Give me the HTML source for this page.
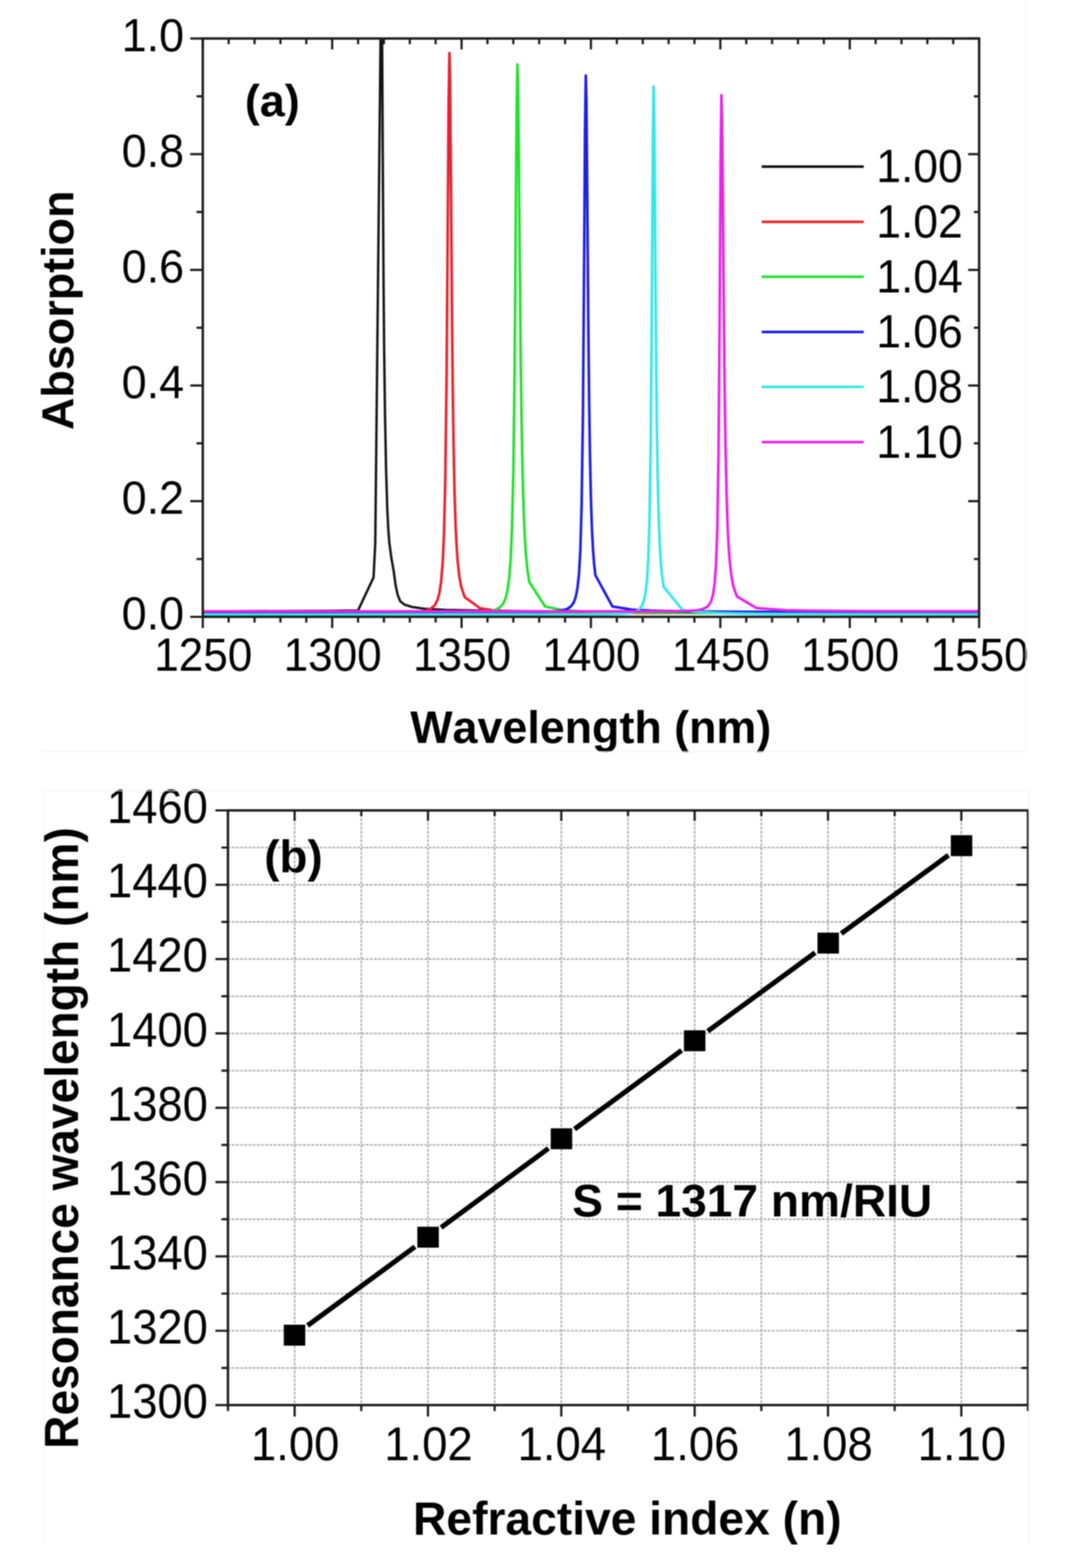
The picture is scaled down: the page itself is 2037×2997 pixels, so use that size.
<!DOCTYPE html>
<html><head><meta charset="utf-8"><title>Absorption spectra and resonance wavelength sensitivity</title>
<style>html,body{margin:0;padding:0;background:#fff;}svg{display:block;filter:blur(0.9px);}text{font-family:'Liberation Sans', Arial, sans-serif;font-kerning:none;}</style>
</head><body>
<svg width="2037" height="2997" viewBox="0 0 2037 2997">
<rect width="2037" height="2997" fill="#fff"/>
<defs><clipPath id="ca"><rect x="387.5" y="73.6" width="1483.5" height="1105.4"/></clipPath></defs>
<g clip-path="url(#ca)" fill="none" stroke-width="4.6" stroke-linejoin="round">
<polyline points="338.1,1168.3 432.0,1168.2 629.8,1167.5 684.2,1166.8 713.8,1103.8 717.1,1037.5 727.2,73.6 728.7,-147.5 730.2,73.6 731.4,294.7 732.9,537.9 734.1,670.5 735.6,785.5 737.6,891.6 740.1,974.5 742.1,1013.2 744.0,1037.5 748.0,1067.4 752.2,1090.6 755.9,1118.2 759.9,1137.0 764.8,1149.2 773.2,1155.8 788.0,1160.2 810.3,1163.5 852.3,1165.7 926.5,1167.4 1124.3,1169.1 1470.5,1170.4 1920.5,1170.9" stroke="#141414"/>
<polyline points="338.1,1171.8 463.2,1171.8 586.8,1171.8 661.0,1171.7 710.4,1171.6 750.0,1171.4 779.6,1170.8 799.4,1169.6 811.8,1167.8 823.2,1163.6 831.1,1156.3 836.0,1146.6 839.5,1134.1 842.9,1111.7 845.9,1075.8 848.4,1021.0 850.8,919.6 853.3,726.8 855.8,400.6 857.3,193.5 858.8,101.2 860.0,155.9 861.2,291.7 862.5,454.0 863.7,603.3 865.2,746.0 866.7,849.9 868.6,944.0 870.6,1004.8 872.6,1045.2 874.6,1073.1 877.5,1100.6 881.0,1120.4 888.1,1141.5 917.6,1162.7 942.8,1166.4 982.4,1168.7 1017.0,1169.7 1056.6,1170.3 1130.7,1170.9 1254.4,1171.4 1452.2,1171.6 1847.8,1171.7 1920.5,1171.7" stroke="#e8222c" stroke-width="5"/>
<polyline points="338.1,1171.8 395.4,1171.8 593.2,1171.8 716.8,1171.8 791.0,1171.7 840.5,1171.6 880.0,1171.3 909.7,1170.6 929.5,1169.3 941.8,1167.3 953.2,1162.6 961.1,1154.5 966.1,1143.7 969.5,1130.0 973.0,1105.4 976.0,1066.4 978.4,1007.8 980.9,901.7 983.4,706.8 985.8,394.3 987.3,205.3 988.8,123.3 990.0,167.5 991.3,280.7 992.5,423.1 993.8,561.7 995.2,701.6 996.7,808.6 998.7,909.5 1000.7,977.0 1002.7,1022.9 1004.6,1055.0 1007.6,1087.2 1011.4,1112.4 1041.7,1159.4 1075.3,1166.1 1112.4,1168.4 1147.1,1169.5 1186.6,1170.2 1260.8,1170.9 1384.4,1171.4 1582.2,1171.6 1920.5,1171.7" stroke="#24e02c" stroke-width="5"/>
<polyline points="338.1,1170.2 526.0,1170.2 723.8,1170.1 847.4,1170.1 921.6,1170.1 971.0,1170.0 1010.6,1169.8 1040.2,1169.4 1060.0,1168.5 1072.4,1167.1 1083.8,1163.9 1091.7,1158.4 1096.6,1151.0 1100.1,1141.4 1103.5,1123.9 1106.5,1095.4 1109.0,1051.0 1111.4,965.9 1113.9,793.9 1116.4,473.0 1117.9,249.2 1119.4,144.3 1120.6,197.6 1121.8,329.5 1123.1,486.4 1124.3,630.0 1125.8,766.5 1127.3,865.6 1129.2,954.9 1131.2,1012.5 1133.2,1050.7 1135.2,1077.0 1137.7,1099.4 1170.3,1159.2 1207.9,1165.3 1243.0,1167.1 1277.6,1168.0 1317.2,1168.7 1391.3,1169.3 1515.0,1169.7 1712.8,1170.0 1920.5,1170.0" stroke="#1e1ee4" stroke-width="5"/>
<polyline points="338.1,1174.4 655.5,1174.4 853.3,1174.3 976.9,1174.3 1051.1,1174.3 1100.6,1174.2 1140.1,1174.1 1169.8,1173.7 1189.6,1173.0 1201.9,1171.9 1213.3,1169.3 1221.2,1164.7 1226.2,1158.5 1229.6,1150.6 1233.1,1135.9 1236.1,1111.8 1238.5,1073.6 1241.0,998.7 1243.5,840.4 1246.0,522.2 1247.4,282.6 1248.9,165.3 1250.2,227.8 1251.4,377.3 1252.6,545.7 1253.9,691.4 1255.3,822.7 1256.8,914.0 1258.8,993.3 1260.8,1043.1 1262.8,1075.5 1264.7,1097.5 1268.2,1121.7 1304.3,1166.0 1335.0,1169.8 1372.5,1171.5 1407.2,1172.4 1446.7,1173.0 1520.9,1173.5 1644.5,1173.9 1842.3,1174.2 1920.5,1174.2" stroke="#34e8e8" stroke-width="5"/>
<polyline points="338.1,1168.5 389.5,1168.5 785.1,1168.5 982.9,1168.5 1106.5,1168.5 1180.7,1168.4 1230.1,1168.4 1269.7,1168.3 1299.4,1167.9 1319.1,1167.3 1331.5,1166.4 1342.9,1164.2 1350.8,1160.3 1355.7,1155.0 1359.2,1148.1 1362.7,1135.5 1365.6,1114.5 1368.1,1081.0 1370.6,1013.9 1373.0,867.8 1375.5,556.8 1377.0,308.2 1378.5,181.9 1379.7,228.3 1381.0,345.4 1382.2,488.6 1383.4,623.6 1384.9,755.6 1386.4,853.9 1388.4,944.3 1390.3,1003.6 1392.3,1043.4 1394.3,1071.0 1397.3,1098.4 1401.2,1120.4 1408.1,1140.0 1445.2,1162.2 1502.1,1166.2 1536.7,1167.0 1576.3,1167.5 1650.5,1167.9 1774.1,1168.2 1920.5,1168.3" stroke="#ea22ea" stroke-width="5"/>
</g>
<rect x="387.5" y="73.6" width="1483.5" height="1105.4" fill="none" stroke="#1c1c1c" stroke-width="4.6"/>
<path d="M387.5 1179.0V1200.5M387.5 73.6V94.6M436.9 1179.0V1190.0M436.9 73.6V84.6M486.4 1179.0V1190.0M486.4 73.6V84.6M535.9 1179.0V1190.0M535.9 73.6V84.6M585.3 1179.0V1190.0M585.3 73.6V84.6M634.8 1179.0V1200.5M634.8 73.6V94.6M684.2 1179.0V1190.0M684.2 73.6V84.6M733.6 1179.0V1190.0M733.6 73.6V84.6M783.1 1179.0V1190.0M783.1 73.6V84.6M832.5 1179.0V1190.0M832.5 73.6V84.6M882.0 1179.0V1200.5M882.0 73.6V94.6M931.5 1179.0V1190.0M931.5 73.6V84.6M980.9 1179.0V1190.0M980.9 73.6V84.6M1030.3 1179.0V1190.0M1030.3 73.6V84.6M1079.8 1179.0V1190.0M1079.8 73.6V84.6M1129.2 1179.0V1200.5M1129.2 73.6V94.6M1178.7 1179.0V1190.0M1178.7 73.6V84.6M1228.2 1179.0V1190.0M1228.2 73.6V84.6M1277.6 1179.0V1190.0M1277.6 73.6V84.6M1327.0 1179.0V1190.0M1327.0 73.6V84.6M1376.5 1179.0V1200.5M1376.5 73.6V94.6M1426.0 1179.0V1190.0M1426.0 73.6V84.6M1475.4 1179.0V1190.0M1475.4 73.6V84.6M1524.8 1179.0V1190.0M1524.8 73.6V84.6M1574.3 1179.0V1190.0M1574.3 73.6V84.6M1623.8 1179.0V1200.5M1623.8 73.6V94.6M1673.2 1179.0V1190.0M1673.2 73.6V84.6M1722.7 1179.0V1190.0M1722.7 73.6V84.6M1772.1 1179.0V1190.0M1772.1 73.6V84.6M1821.5 1179.0V1190.0M1821.5 73.6V84.6M1871.0 1179.0V1200.5M1871.0 73.6V94.6M387.5 1179.0H363.5M1871.0 1179.0H1850.0M387.5 1068.5H375.5M1871.0 1068.5H1861.0M387.5 957.9H363.5M1871.0 957.9H1850.0M387.5 847.4H375.5M1871.0 847.4H1861.0M387.5 736.8H363.5M1871.0 736.8H1850.0M387.5 626.3H375.5M1871.0 626.3H1861.0M387.5 515.8H363.5M1871.0 515.8H1850.0M387.5 405.2H375.5M1871.0 405.2H1861.0M387.5 294.7H363.5M1871.0 294.7H1850.0M387.5 184.1H375.5M1871.0 184.1H1861.0M387.5 73.6H363.5M1871.0 73.6H1850.0" stroke="#1c1c1c" stroke-width="4.2" fill="none"/>
<g fill="#000">
<text transform="translate(232.50 1202.96) scale(1 1.0252)" font-size="85.86">0.0</text>
<text transform="translate(232.50 981.88) scale(1 1.0252)" font-size="85.86">0.2</text>
<text transform="translate(232.50 760.80) scale(1 1.0252)" font-size="85.86">0.4</text>
<text transform="translate(232.50 539.72) scale(1 1.0252)" font-size="85.86">0.6</text>
<text transform="translate(232.50 318.64) scale(1 1.0252)" font-size="85.86">0.8</text>
<text transform="translate(232.50 97.56) scale(1 1.0252)" font-size="85.86">1.0</text>
<text transform="translate(294.64 1281.97) scale(1 1.0572)" font-size="84.29">1250</text>
<text transform="translate(541.89 1281.97) scale(1 1.0572)" font-size="84.29">1300</text>
<text transform="translate(789.14 1281.97) scale(1 1.0572)" font-size="84.29">1350</text>
<text transform="translate(1036.39 1281.97) scale(1 1.0572)" font-size="84.29">1400</text>
<text transform="translate(1283.64 1281.97) scale(1 1.0572)" font-size="84.29">1450</text>
<text transform="translate(1530.89 1281.97) scale(1 1.0572)" font-size="84.29">1500</text>
<text transform="translate(1778.14 1281.97) scale(1 1.0572)" font-size="84.29">1550</text>
<line x1="1455.5" y1="318.6" x2="1650.5" y2="318.6" stroke="#141414" stroke-width="5"/>
<text transform="translate(1674.59 348.47) scale(1 1.0381)" font-size="84.80">1.00</text>
<line x1="1455.5" y1="423.9" x2="1650.5" y2="423.9" stroke="#e8222c" stroke-width="5"/>
<text transform="translate(1674.59 453.72) scale(1 1.0381)" font-size="84.80">1.02</text>
<line x1="1455.5" y1="529.1" x2="1650.5" y2="529.1" stroke="#24e02c" stroke-width="5"/>
<text transform="translate(1674.59 558.97) scale(1 1.0381)" font-size="84.80">1.04</text>
<line x1="1455.5" y1="634.4" x2="1650.5" y2="634.4" stroke="#1e1ee4" stroke-width="5"/>
<text transform="translate(1674.59 664.22) scale(1 1.0381)" font-size="84.80">1.06</text>
<line x1="1455.5" y1="739.6" x2="1650.5" y2="739.6" stroke="#34e8e8" stroke-width="5"/>
<text transform="translate(1674.59 769.47) scale(1 1.0381)" font-size="84.80">1.08</text>
<line x1="1455.5" y1="844.9" x2="1650.5" y2="844.9" stroke="#ea22ea" stroke-width="5"/>
<text transform="translate(1674.59 874.72) scale(1 1.0381)" font-size="84.80">1.10</text>
<text transform="translate(468.01 221.77) scale(1 0.9891)" font-size="85.65" font-weight="bold">(a)</text>
<text transform="translate(784.00 1419.86) scale(1 1.0119)" font-size="85.63" font-weight="bold">Wavelength (nm)</text>
<text transform="translate(140.19 822.00) rotate(-90) scale(1 0.9915)" font-size="85.89" font-weight="bold">Absorption</text>
</g>
<path d="M563.0 1549.0V2685.6M690.4 1549.0V2685.6M817.8 1549.0V2685.6M945.2 1549.0V2685.6M1072.6 1549.0V2685.6M1200.0 1549.0V2685.6M1327.4 1549.0V2685.6M1454.8 1549.0V2685.6M1582.2 1549.0V2685.6M1709.6 1549.0V2685.6M1837.0 1549.0V2685.6M435.6 2614.6H1964.4M435.6 2543.5H1964.4M435.6 2472.5H1964.4M435.6 2401.4H1964.4M435.6 2330.4H1964.4M435.6 2259.4H1964.4M435.6 2188.3H1964.4M435.6 2117.3H1964.4M435.6 2046.3H1964.4M435.6 1975.2H1964.4M435.6 1904.2H1964.4M435.6 1833.1H1964.4M435.6 1762.1H1964.4M435.6 1691.1H1964.4M435.6 1620.0H1964.4" stroke="#e6e6e6" stroke-width="3.2" fill="none"/>
<path d="M563.0 1549.0V2685.6M690.4 1549.0V2685.6M817.8 1549.0V2685.6M945.2 1549.0V2685.6M1072.6 1549.0V2685.6M1200.0 1549.0V2685.6M1327.4 1549.0V2685.6M1454.8 1549.0V2685.6M1582.2 1549.0V2685.6M1709.6 1549.0V2685.6M1837.0 1549.0V2685.6M435.6 2614.6H1964.4M435.6 2543.5H1964.4M435.6 2472.5H1964.4M435.6 2401.4H1964.4M435.6 2330.4H1964.4M435.6 2259.4H1964.4M435.6 2188.3H1964.4M435.6 2117.3H1964.4M435.6 2046.3H1964.4M435.6 1975.2H1964.4M435.6 1904.2H1964.4M435.6 1833.1H1964.4M435.6 1762.1H1964.4M435.6 1691.1H1964.4M435.6 1620.0H1964.4" stroke="#a0a0a0" stroke-width="2.6" stroke-dasharray="3.8 4.2" fill="none"/>
<rect x="435.6" y="1549.0" width="1528.8" height="1136.6" fill="none" stroke="#1c1c1c" stroke-width="4.6"/>
<path d="M435.6 2685.6V2697.1M435.6 1549.0V1560.0M563.0 2685.6V2707.6M563.0 1549.0V1569.0M690.4 2685.6V2697.1M690.4 1549.0V1560.0M817.8 2685.6V2707.6M817.8 1549.0V1569.0M945.2 2685.6V2697.1M945.2 1549.0V1560.0M1072.6 2685.6V2707.6M1072.6 1549.0V1569.0M1200.0 2685.6V2697.1M1200.0 1549.0V1560.0M1327.4 2685.6V2707.6M1327.4 1549.0V1569.0M1454.8 2685.6V2697.1M1454.8 1549.0V1560.0M1582.2 2685.6V2707.6M1582.2 1549.0V1569.0M1709.6 2685.6V2697.1M1709.6 1549.0V1560.0M1837.0 2685.6V2707.6M1837.0 1549.0V1569.0M1964.4 2685.6V2697.1M1964.4 1549.0V1560.0M435.6 2685.6H411.6M1964.4 2685.6H1942.4M435.6 2614.6H423.1M1964.4 2614.6H1951.9M435.6 2543.5H411.6M1964.4 2543.5H1942.4M435.6 2472.5H423.1M1964.4 2472.5H1951.9M435.6 2401.4H411.6M1964.4 2401.4H1942.4M435.6 2330.4H423.1M1964.4 2330.4H1951.9M435.6 2259.4H411.6M1964.4 2259.4H1942.4M435.6 2188.3H423.1M1964.4 2188.3H1951.9M435.6 2117.3H411.6M1964.4 2117.3H1942.4M435.6 2046.3H423.1M1964.4 2046.3H1951.9M435.6 1975.2H411.6M1964.4 1975.2H1942.4M435.6 1904.2H423.1M1964.4 1904.2H1951.9M435.6 1833.1H411.6M1964.4 1833.1H1942.4M435.6 1762.1H423.1M1964.4 1762.1H1951.9M435.6 1691.1H411.6M1964.4 1691.1H1942.4M435.6 1620.0H423.1M1964.4 1620.0H1951.9M435.6 1549.0H411.6M1964.4 1549.0H1942.4" stroke="#1c1c1c" stroke-width="4.2" fill="none"/>
<path d="M587.8 2533.7L793.0 2383.0M842.9 2346.3L1048.0 2195.0M1097.9 2158.2L1302.4 2007.7M1352.4 1971.0L1557.6 1820.9M1607.6 1784.3L1812.4 1634.7" fill="none" stroke="#000" stroke-width="9.5"/>
<rect x="542.3" y="2532.0" width="41" height="40" fill="#000"/>
<rect x="797.5" y="2344.7" width="41" height="40" fill="#000"/>
<rect x="1052.4" y="2156.6" width="41" height="40" fill="#000"/>
<rect x="1306.9" y="1969.3" width="41" height="40" fill="#000"/>
<rect x="1562.1" y="1782.6" width="41" height="40" fill="#000"/>
<rect x="1816.9" y="1596.4" width="41" height="40" fill="#000"/>
<g fill="#000">
<text transform="translate(204.45 2709.92) scale(1 1.0721)" font-size="86.67">1300</text>
<text transform="translate(204.45 2567.84) scale(1 1.0721)" font-size="86.67">1320</text>
<text transform="translate(204.45 2425.77) scale(1 1.0721)" font-size="86.67">1340</text>
<text transform="translate(204.45 2283.69) scale(1 1.0721)" font-size="86.67">1360</text>
<text transform="translate(204.45 2141.62) scale(1 1.0721)" font-size="86.67">1380</text>
<text transform="translate(204.45 1999.54) scale(1 1.0721)" font-size="86.67">1400</text>
<text transform="translate(204.45 1857.47) scale(1 1.0721)" font-size="86.67">1420</text>
<text transform="translate(204.45 1715.39) scale(1 1.0721)" font-size="86.67">1440</text>
<text transform="translate(204.45 1573.32) scale(1 1.0721)" font-size="86.67">1460</text>
<text transform="translate(479.43 2790.95) scale(1 1.0397)" font-size="86.87">1.00</text>
<text transform="translate(734.23 2790.95) scale(1 1.0397)" font-size="86.87">1.02</text>
<text transform="translate(989.03 2790.95) scale(1 1.0397)" font-size="86.87">1.04</text>
<text transform="translate(1243.83 2790.95) scale(1 1.0397)" font-size="86.87">1.06</text>
<text transform="translate(1498.63 2790.95) scale(1 1.0397)" font-size="86.87">1.08</text>
<text transform="translate(1753.43 2790.95) scale(1 1.0397)" font-size="86.87">1.10</text>
<text transform="translate(504.93 1667.47) scale(1 0.9859)" font-size="87.52" font-weight="bold">(b)</text>
<text transform="translate(1093.44 2325.47) scale(1 0.9890)" font-size="88.10" font-weight="bold">S = 1317 nm/RIU</text>
<text transform="translate(789.36 2932.50) scale(1 1.0018)" font-size="88.25" font-weight="bold">Refractive index (n)</text>
<text transform="translate(148.57 2769.14) rotate(-90) scale(1 1.0293)" font-size="87.99" font-weight="bold">Resonance wavelength (nm)</text>
</g>
<rect x="0" y="0" width="2037" height="36.3" fill="#fff"/>
<rect x="0" y="2952.5" width="2037" height="45" fill="#fff"/>
<path d="M77 1436.6H1960V0M83.5 2952V1511.5H1966V2952" fill="none" stroke="#f1f1f1" stroke-width="1.6"/>
</svg>
</body></html>
